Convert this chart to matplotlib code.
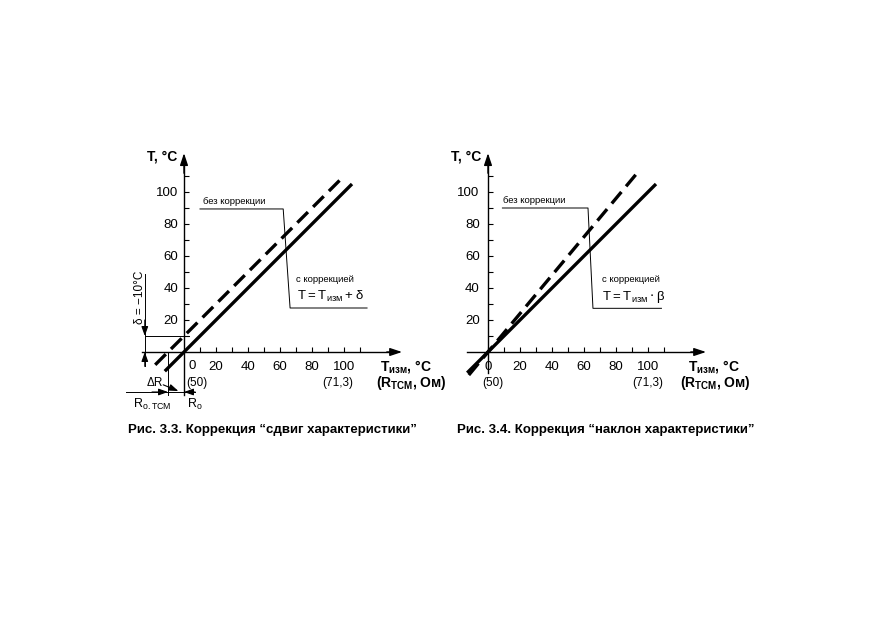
import matplotlib
matplotlib.use('Agg')
import matplotlib.pyplot as plt

plt.rcParams['font.family'] = ['Liberation Sans Narrow', 'Liberation Sans', 'DejaVu Sans']

# --- данные ---
x_ticks = [20, 40, 60, 80, 100]
y_ticks = [20, 40, 60, 80, 100]
minor_ticks = list(range(10, 120, 10))

# Рис. 3.3 - сдвиг характеристики
shift_solid_x = [-12, 105]
shift_solid_y = [-12, 105]
shift_dash_x = [-18, 100]
shift_dash_y = [-8, 110]
shift_leader_x = [10, 62, 66.3, 114.4]
shift_leader_y = [89.4, 89.4, 27.5, 27.5]
delta = -10

# Рис. 3.4 - наклон характеристики
slope_solid_x = [-13, 105]
slope_solid_y = [-13, 105]
slope_dash_x = [-12, 95]
slope_dash_y = [-14.4, 114]
slope_leader_x = [9, 62.5, 65.6, 108.4]
slope_leader_y = [90, 90, 27.3, 27.3]

fig = plt.figure(figsize=(8.72, 6.18), dpi=100)
W, H = 872, 618


def make_axes(left_px, ypad):
    ax = fig.add_axes([left_px / W, (H - 448) / H, 304 / W, 304 / H])
    ax.set_xlim(-40, 150)
    ax.set_ylim(-60, 130)
    ax.patch.set_visible(False)
    for s in ['top', 'right']:
        ax.spines[s].set_visible(False)
    ax.spines['left'].set_position(('data', 0))
    ax.spines['bottom'].set_position(('data', 0))
    ax.spines['left'].set_linewidth(1.0)
    ax.spines['bottom'].set_linewidth(1.0)
    ax.set_yticks(y_ticks)
    ax.set_yticks(minor_ticks, minor=True)
    ax.tick_params(which='both', direction='in', length=3.6, width=0.8, labelsize=9.5)
    ax.tick_params(axis='x', pad=6.5)
    ax.tick_params(axis='y', pad=ypad)
    # стрелки осей
    ax.annotate('', xy=(0, 126), xytext=(0, 110),
                arrowprops=dict(arrowstyle='-|>,head_length=0.6,head_width=0.2',
                                color='black', lw=1.0, mutation_scale=12))
    ax.annotate('', xy=(138, 0), xytext=(125, 0),
                arrowprops=dict(arrowstyle='-|>,head_length=0.6,head_width=0.2',
                                color='black', lw=1.0, mutation_scale=12))
    ax.text(-4.5, 122, 'T, °C', ha='right', va='center', fontsize=10, fontweight='bold')
    return ax


small_arrow = dict(arrowstyle='-|>,head_length=0.7,head_width=0.25',
                   color='black', lw=0.8, mutation_scale=8, shrinkA=0, shrinkB=0)

# ---------- левый график ----------
ax1 = make_axes(120, 4.3)
ax1.spines['left'].set_bounds(-27, 120)
ax1.spines['bottom'].set_bounds(-26, 130)
ax1.set_xticks(x_ticks)
ax1.set_xticks(minor_ticks, minor=True)
ax1.text(5, -8.8, '0', ha='center', va='center', fontsize=9.5)

ax1.plot(shift_solid_x, shift_solid_y, color='black', lw=2.4, solid_capstyle='butt')
ax1.plot(shift_dash_x, shift_dash_y, color='black', lw=2.4, dashes=(4.5, 2.2))
ax1.plot(shift_leader_x, shift_leader_y, color='black', lw=0.7)

ax1.text(12, 94, 'без коррекции', ha='left', va='center', fontsize=6.8)
ax1.text(70, 45, 'с коррекцией', ha='left', va='center', fontsize=6.8)
ax1.text(70.5, 34.5, r'$\mathregular{T=T_{изм}+δ}$', ha='left', va='center', fontsize=9.5)

# размер δ
ax1.plot([-24.5, 3], [-delta, -delta], color='black', lw=0.7)
ax1.plot([-24.5, -24.5], [49, -9], color='black', lw=0.7)
ax1.annotate('', xy=(-24.5, -delta), xytext=(-24.5, 20), arrowprops=small_arrow)
ax1.annotate('', xy=(-24.5, 0), xytext=(-24.5, -9), arrowprops=small_arrow)
ax1.text(-27.8, 34, 'δ = −10°C', rotation=90, ha='center', va='center', fontsize=8.5)

# размер ΔR
ax1.plot([delta, delta], [0, -27], color='black', lw=0.7)
ax1.plot([-36, 7], [-25, -25], color='black', lw=0.7)
ax1.annotate('', xy=(delta, -25), xytext=(-20, -25), arrowprops=small_arrow)
ax1.annotate('', xy=(0, -25), xytext=(7, -25), arrowprops=small_arrow)
ax1.text(-18, -19.6, 'ΔR', ha='center', va='center', fontsize=8.5)
ax1.annotate('', xy=(-3.5, -24.4), xytext=(-13, -20.5), arrowprops=small_arrow)
ax1.text(-20, -32.5, r'R$\mathregular{_{o.ТСМ}}$', ha='center', va='center', fontsize=9)
ax1.text(7, -32.5, r'R$\mathregular{_o}$', ha='center', va='center', fontsize=9)

ax1.text(8, -19.4, '(50)', ha='center', va='center', fontsize=8.5)
ax1.text(96, -19.4, '(71,3)', ha='center', va='center', fontsize=8.5)
ax1.text(122.5, -9, r'T$\mathregular{_{изм}}$, °C', ha='left', va='center',
         fontsize=10, fontweight='bold')
ax1.text(120, -19.4, r'(R$\mathregular{_{ТСМ}}$, Ом)', ha='left', va='center',
         fontsize=10, fontweight='bold')

# ---------- правый график ----------
ax2 = make_axes(424, 6)
ax2.spines['left'].set_bounds(-13, 120)
ax2.spines['bottom'].set_bounds(-13, 130)
ax2.set_xticks([0] + x_ticks)
ax2.set_xticks(minor_ticks, minor=True)

ax2.plot(slope_solid_x, slope_solid_y, color='black', lw=2.4, solid_capstyle='butt')
ax2.plot(slope_dash_x, slope_dash_y, color='black', lw=2.4, dashes=(4.5, 2.2))
ax2.plot(slope_leader_x, slope_leader_y, color='black', lw=0.7)

ax2.text(9.5, 94.4, 'без коррекции', ha='left', va='center', fontsize=6.8)
ax2.text(71, 45, 'с коррекцией', ha='left', va='center', fontsize=6.8)
ax2.text(71, 34.5, r'$\mathregular{T=T_{изм}}\cdot\mathregular{β}$', ha='left', va='center',
         fontsize=9.5)

ax2.text(3, -19.4, '(50)', ha='center', va='center', fontsize=8.5)
ax2.text(100, -19.4, '(71,3)', ha='center', va='center', fontsize=8.5)
ax2.text(125, -9, r'T$\mathregular{_{изм}}$, °C', ha='left', va='center',
         fontsize=10, fontweight='bold')
ax2.text(120, -19.4, r'(R$\mathregular{_{ТСМ}}$, Ом)', ha='left', va='center',
         fontsize=10, fontweight='bold')

# подписи рисунков
fig.text(272 / W, 1 - 430 / H, 'Рис. 3.3. Коррекция “сдвиг характеристики”',
         ha='center', va='center', fontsize=9.5, fontweight='bold')
fig.text(606 / W, 1 - 430 / H, 'Рис. 3.4. Коррекция “наклон характеристики”',
         ha='center', va='center', fontsize=9.5, fontweight='bold')

fig.savefig('out.png', dpi=100)
